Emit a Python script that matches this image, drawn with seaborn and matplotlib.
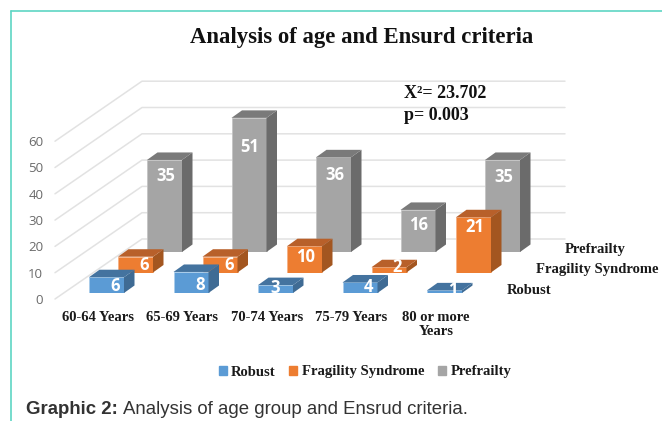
"""Analysis of age and Ensrud criteria - 3D looking bars built from seaborn barplots."""

import matplotlib
matplotlib.use("Agg")
import matplotlib.pyplot as plt
import seaborn as sns
from matplotlib.patches import Patch, Polygon
from matplotlib.transforms import ScaledTranslation

ages = ["60-64 Years", "65-69 Years", "70-74 Years", "75-79 Years", "80 or more\nYears"]
robust = [6, 8, 3, 4, 1]
fragility = [6, 6, 10, 2, 21]
prefrailty = [35, 51, 36, 16, 35]
series_names = ["Robust", "Fragility Syndrome", "Prefrailty"]
y_ticks = [0, 10, 20, 30, 40, 50, 60]

W, H = 662, 421
PX_PER_UNIT = 2.63
BAND = 84.5
BAR_W = 35
SIDE_DX, SIDE_DY = 10.5, 7.5      # depth of one bar, pixels
ROW_DX, ROW_DY = 29, 20.5         # shift between rows, pixels

front = ["#5B9BD5", "#ED7D31", "#A5A5A5"]
side = ["#3F6B94", "#A35620", "#6B6B6B"]
top = ["#44739F", "#B8602A", "#7A7A7A"]
edge = ["#A9CDEB", "#F6B184", "#C4C4C4"]

# label nudges in pixels from the bar's centre / base, the chart puts these oddly
label_dx = [[9, 9, 0, 9, 8], [9, 9, 1, 8, 1], [1, 1, 1, 1, 1]]
label_dy = [[7, 8, 5, 6, 3], [8, 8, 16, 6, 45], [76, 105, 77, 27, 75]]

sns.set_theme(style="white")
plt.rcParams["font.family"] = ["Liberation Serif", "DejaVu Sans"]

fig = plt.figure(figsize=(W / 100, H / 100), dpi=100)


def axes_px(left, base, width, height, z):
    a = fig.add_axes([left / W, (H - base) / H, width / W, height / H], zorder=z)
    a.patch.set_alpha(0)
    return a


# walls: gridlines on the left side and the back
wall = axes_px(55, 299, 510, 60 * PX_PER_UNIT, 0)
wall.set_xlim(0, 510)
wall.set_ylim(0, 60)
wall.set_yticks(y_ticks)
wall.set_xticks([])
wall.tick_params(axis="y", length=0, pad=8.5, labelsize=9.5, labelcolor="#6a6a6a")
for lab in wall.get_yticklabels():
    lab.set_family("Open Sans")
sns.despine(ax=wall, left=True, bottom=True)
depth = 60 / PX_PER_UNIT
for v in y_ticks:
    wall.plot([0, 87, 510], [v, v + depth, v + depth], color="#E2E2E2", lw=1.1, clip_on=False)

# one transparent axes per row, back row first so the front rows overlap it
values = [robust, fragility, prefrailty]
for i in [2, 1, 0]:
    ax = axes_px(64.25 + i * ROW_DX, 293 - i * ROW_DY, 5 * BAND, 60 * PX_PER_UNIT, 3 - i)
    sns.barplot(x=ages, y=values[i], ax=ax, color=front[i], saturation=1,
                width=BAR_W / BAND, edgecolor=edge[i], linewidth=0.6)
    ax.set_xlim(-0.5, 4.5)
    ax.set_ylim(0, 60)
    ax.set_yticks([])
    ax.set_ylabel("")
    ax.tick_params(axis="x", length=0)
    sns.despine(ax=ax, left=True, bottom=True)

    # side and top faces, taken from the bars seaborn drew
    dx = SIDE_DX / BAND
    dy = SIDE_DY / PX_PER_UNIT
    for bar in ax.patches:
        x0, x1 = bar.get_x(), bar.get_x() + bar.get_width()
        h = bar.get_height()
        ax.add_patch(Polygon([(x1, 0), (x1 + dx, dy), (x1 + dx, h + dy), (x1, h)],
                             color=side[i], lw=0, clip_on=False))
        ax.add_patch(Polygon([(x0, h), (x0 + dx, h + dy), (x1 + dx, h + dy), (x1, h)],
                             color=top[i], lw=0, clip_on=False))

    for j, v in enumerate(values[i]):
        ax.annotate(str(v), (j, 0), xytext=(label_dx[i][j], label_dy[i][j]),
                    textcoords="offset pixels", ha="center", va="center", color="white",
                    fontsize=12, fontweight="bold", family="Open Sans", zorder=5)

    # row name at the end of the depth axis
    ax.annotate(series_names[i], (1, 0), xycoords="axes fraction", xytext=(20, 3),
                textcoords="offset pixels", ha="left", va="center",
                fontsize=10.5, fontweight="bold", color="#1a1a1a")

    if i == 0:
        ax.tick_params(axis="x", pad=13, labelsize=10.5)
        shift = ScaledTranslation(-8.5 / 100, 0, fig.dpi_scale_trans)
        for lab in ax.get_xticklabels():
            lab.set_fontweight("bold")
            lab.set_color("#1a1a1a")
            lab.set_linespacing(1.05)
            lab.set_transform(lab.get_transform() + shift)
    else:
        ax.set_xticklabels([])

fig.text(362 / W, 1 - 38 / H, "Analysis of age and Ensurd criteria", ha="center", va="center",
         fontsize=16.4, fontweight="bold", color="#111111")
fig.text(404 / W, 1 - 94 / H, "X²= 23.702", ha="left", va="center", fontsize=13, fontweight="bold", color="#111111")
fig.text(404 / W, 1 - 116 / H, "p= 0.003", ha="left", va="center", fontsize=13, fontweight="bold", color="#111111")

handles = [Patch(color=c, label=n) for c, n in zip(front, series_names)]
fig.legend(handles=handles, loc="center", bbox_to_anchor=(365 / W, 1 - 372 / H), ncol=3, frameon=False,
           prop={"weight": "bold", "size": 10.5}, handlelength=0.55, handleheight=0.55,
           handletextpad=0.3, columnspacing=0.95, labelcolor="#1a1a1a")

fig.text(26 / W, 1 - 410 / H, "Graphic 2:", family="Liberation Sans", fontweight="bold", fontsize=13.4,
         ha="left", va="center", color="#333333")
fig.text(123 / W, 1 - 410 / H, "Analysis of age group and Ensrud criteria.", family="Liberation Sans",
         fontsize=13.4, ha="left", va="center", color="#333333")

# teal frame of the page
frame = "#5DD5C4"
fig.add_artist(plt.Line2D([11 / W, 11 / W], [0, 1 - 11 / H], color=frame, lw=1.2))
fig.add_artist(plt.Line2D([11 / W, 1], [1 - 11 / H, 1 - 11 / H], color=frame, lw=1.2))

fig.savefig("out.png", dpi=100)
